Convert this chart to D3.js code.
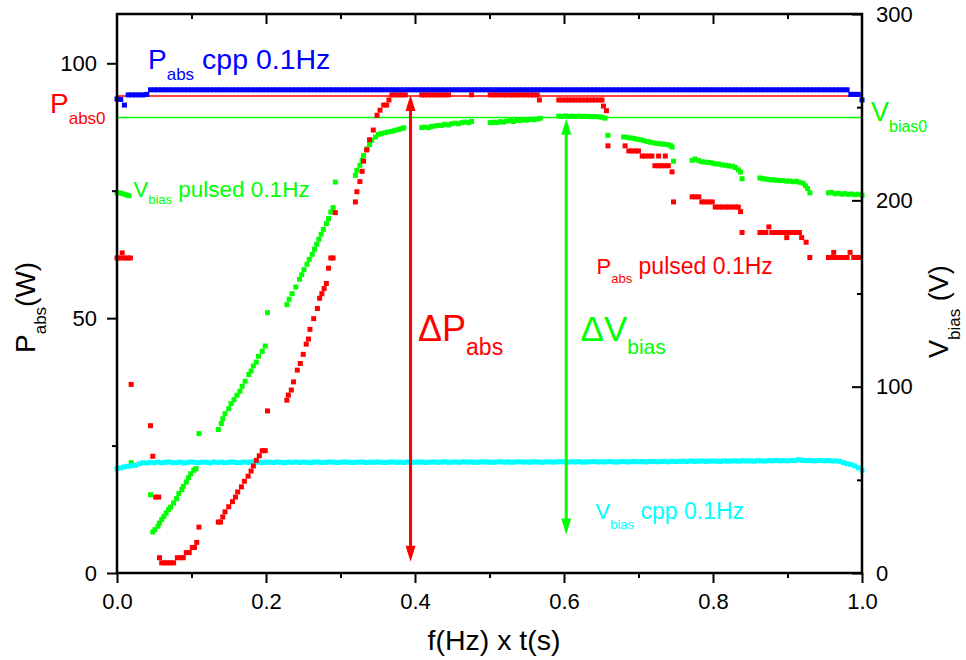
<!DOCTYPE html>
<html>
<head>
<meta charset="utf-8">
<script src="https://cdn.jsdelivr.net/npm/d3@7"></script>
<style>
  body { margin: 0; background: #fff; }
  text { font-family: "Liberation Sans", Arial, sans-serif; white-space: pre; }
</style>
</head>
<body>
<svg id="chart" width="966" height="660"></svg>
<script>
// ---------- data ----------
const xTicks = [0, 0.2, 0.4, 0.6, 0.8, 1.0];
const xMinor = [0.1, 0.3, 0.5, 0.7, 0.9];
const pTicks = [0, 50, 100];
const pMinor = [25, 75];
const vTicks = [0, 100, 200, 300];
const vMinor = [50, 150, 250];

const pAbs0 = 93.6;    // W, red reference line
const vBias0 = 244.5;  // V, green reference line

// cpp runs sampled every 0.005
const tCpp = d3.range(0, 1.0001, 0.005);

// P_abs cpp 0.1Hz (W)
const pCpp = [
  93.0, 92.9, 91.8, 93.8, 93.8, 93.8, 93.8, 93.8, 93.9, 94.8,
  94.8, 94.8, 94.8, 94.8, 94.8, 94.8, 94.8, 94.8, 94.8, 94.8,
  94.8, 94.8, 94.8, 94.8, 94.8, 94.8, 94.8, 94.8, 94.8, 94.8,
  94.8, 94.8, 94.8, 94.8, 94.8, 94.8, 94.8, 94.8, 94.8, 94.8,
  94.8, 94.8, 94.8, 94.8, 94.8, 94.8, 94.8, 94.8, 94.8, 94.8,
  94.8, 94.8, 94.8, 94.8, 94.8, 94.8, 94.8, 94.8, 94.8, 94.8,
  94.8, 94.8, 94.8, 94.8, 94.8, 94.8, 94.8, 94.8, 94.8, 94.8,
  94.8, 94.8, 94.8, 94.8, 94.8, 94.8, 94.8, 94.8, 94.8, 94.8,
  94.8, 94.8, 94.8, 94.8, 94.8, 94.8, 94.8, 94.8, 94.8, 94.8,
  94.8, 94.8, 94.8, 94.8, 94.8, 94.8, 94.8, 94.8, 94.8, 94.8,
  94.8, 94.8, 94.8, 94.8, 94.8, 94.8, 94.8, 94.8, 94.8, 94.8,
  94.8, 94.8, 94.8, 94.8, 94.8, 94.8, 94.8, 94.8, 94.8, 94.8,
  94.8, 94.8, 94.8, 94.8, 94.8, 94.8, 94.8, 94.8, 94.8, 94.8,
  94.8, 94.8, 94.8, 94.8, 94.8, 94.8, 94.8, 94.8, 94.8, 94.8,
  94.8, 94.8, 94.8, 94.8, 94.8, 94.8, 94.8, 94.8, 94.8, 94.8,
  94.8, 94.8, 94.8, 94.8, 94.8, 94.8, 94.8, 94.8, 94.8, 94.8,
  94.8, 94.8, 94.8, 94.8, 94.8, 94.8, 94.8, 94.8, 94.8, 94.8,
  94.8, 94.8, 94.8, 94.8, 94.8, 94.8, 94.8, 94.8, 94.8, 94.8,
  94.8, 94.8, 94.8, 94.8, 94.8, 94.8, 94.8, 94.8, 94.8, 94.8,
  94.8, 94.8, 94.8, 94.8, 94.8, 94.8, 94.8, 93.9, 93.9, 93.9,
  92.8
];

// V_bias cpp 0.1Hz (V)
const vCpp = [
  56.0, 56.4, 57.0, 57.3, 57.6, 57.8, 58.6, 59.2, 59.0, 59.4,
  59.2, 59.5, 59.1, 59.4, 59.6, 59.2, 59.3, 59.5, 59.0, 59.4,
  59.6, 59.3, 59.2, 59.5, 59.4, 59.1, 59.6, 59.3, 59.5, 59.2,
  59.4, 59.6, 59.3, 59.2, 59.5, 59.4, 59.6, 59.3, 59.5, 59.2,
  59.4, 59.5, 59.3, 59.6, 59.4, 59.2, 59.5, 59.4, 59.6, 59.3,
  59.5, 59.4, 59.2, 59.6, 59.5, 59.3, 59.4, 59.6, 59.5, 59.3,
  59.4, 59.6, 59.5, 59.3, 59.4, 59.5, 59.6, 59.3, 59.5, 59.4,
  59.6, 59.4, 59.3, 59.5, 59.6, 59.4, 59.5, 59.3, 59.6, 59.5,
  59.4, 59.6, 59.5, 59.3, 59.5, 59.6, 59.4, 59.5, 59.7, 59.4,
  59.5, 59.6, 59.4, 59.7, 59.5, 59.6, 59.4, 59.5, 59.7, 59.6,
  59.5, 59.4, 59.6, 59.7, 59.5, 59.6, 59.4, 59.6, 59.7, 59.5,
  59.6, 59.5, 59.7, 59.6, 59.4, 59.6, 59.7, 59.5, 59.6, 59.8,
  59.6, 59.5, 59.7, 59.6, 59.8, 59.5, 59.6, 59.7, 59.8, 59.6,
  59.7, 59.6, 59.8, 59.7, 59.5, 59.7, 59.8, 59.6, 59.7, 59.9,
  59.7, 59.8, 59.6, 59.8, 59.9, 59.7, 59.8, 59.9, 59.7, 60.0,
  59.8, 59.9, 60.0, 59.8, 60.1, 59.9, 60.0, 60.1, 59.9, 60.0,
  60.1, 60.0, 59.9, 60.2, 60.0, 60.1, 60.2, 60.0, 60.3, 60.1,
  60.2, 60.0, 60.3, 60.2, 60.1, 60.3, 60.2, 60.4, 60.2, 60.3,
  60.2, 60.4, 60.3, 60.8, 60.5, 60.3, 60.4, 60.2, 60.3, 60.4,
  60.2, 60.3, 60.1, 60.2, 59.9, 59.2, 58.7, 58.2, 57.5, 56.5,
  55.1
];

// P_abs pulsed 0.1Hz: [f*t, W]
const pPulsed = [
  [0.000, 61.8], [0.004, 61.8], [0.007, 62.8], [0.010, 61.8], [0.014, 61.8], [0.018, 61.8],
  [0.019, 37.0],
  [0.045, 28.9], [0.048, 22.9], [0.052, 14.9], [0.056, 14.9],
  [0.057, 3.0], [0.060, 2.0], [0.064, 2.0], [0.068, 2.0], [0.072, 2.0], [0.076, 2.0],
  [0.081, 3.0], [0.085, 3.0], [0.089, 3.0], [0.093, 4.0], [0.097, 4.0], [0.101, 5.0], [0.104, 5.0], [0.107, 6.0],
  [0.110, 9.0],
  [0.136, 10.0], [0.139, 10.0], [0.142, 11.0], [0.145, 12.0], [0.150, 13.0], [0.155, 14.0], [0.159, 14.9],
  [0.162, 15.9], [0.167, 16.9], [0.171, 18.0], [0.176, 19.0], [0.180, 20.0], [0.183, 21.0], [0.187, 22.1],
  [0.191, 23.0], [0.195, 24.0], [0.199, 24.0],
  [0.202, 31.8],
  [0.228, 33.9], [0.230, 34.9], [0.234, 35.9], [0.237, 37.5], [0.242, 39.8], [0.246, 41.1], [0.250, 42.9],
  [0.254, 44.9], [0.257, 45.9], [0.259, 47.8], [0.264, 49.9], [0.269, 51.9], [0.272, 53.9], [0.275, 54.8],
  [0.278, 55.8], [0.281, 56.8], [0.284, 59.8], [0.287, 61.8], [0.290, 61.8],
  [0.293, 70.7],
  [0.320, 72.8], [0.322, 74.8], [0.326, 76.8], [0.329, 78.8], [0.331, 80.8], [0.335, 83.0], [0.339, 85.0],
  [0.344, 86.9], [0.349, 89.8], [0.353, 90.8], [0.358, 91.8], [0.362, 91.8], [0.365, 92.8],
  [0.369, 93.8], [0.373, 93.8], [0.378, 93.8], [0.382, 93.8], [0.387, 93.8],
  [0.409, 93.8], [0.413, 93.8], [0.418, 93.8], [0.422, 93.8], [0.427, 93.8], [0.431, 93.8], [0.436, 93.8],
  [0.440, 93.8], [0.445, 93.8],
  [0.476, 93.8],
  [0.501, 93.8], [0.505, 93.8], [0.510, 93.8], [0.514, 93.8], [0.519, 93.8], [0.523, 93.8], [0.528, 93.8],
  [0.532, 93.8], [0.537, 93.8], [0.541, 93.8], [0.546, 93.8], [0.550, 93.8], [0.555, 93.8], [0.559, 93.8],
  [0.564, 93.8],
  [0.567, 92.8],
  [0.593, 92.8], [0.597, 92.8], [0.602, 92.8], [0.606, 92.8], [0.611, 92.8], [0.615, 92.8], [0.620, 92.8],
  [0.624, 92.8], [0.629, 92.8], [0.633, 92.8], [0.638, 92.8], [0.642, 92.8], [0.647, 92.8], [0.651, 92.8],
  [0.653, 91.6], [0.657, 90.7], [0.659, 83.8],
  [0.682, 83.8], [0.687, 82.8], [0.691, 82.8], [0.696, 82.8], [0.700, 82.8], [0.705, 81.8], [0.709, 81.8],
  [0.714, 81.8], [0.718, 81.8], [0.722, 79.9], [0.727, 79.9], [0.727, 81.8], [0.731, 79.9], [0.736, 79.9],
  [0.736, 81.8], [0.740, 79.9], [0.745, 78.7],
  [0.747, 72.8],
  [0.772, 73.8], [0.776, 73.8], [0.781, 73.8], [0.785, 72.8], [0.790, 72.8], [0.794, 72.8], [0.799, 72.8],
  [0.803, 71.8], [0.808, 71.8], [0.812, 71.8], [0.817, 71.8], [0.821, 71.8], [0.826, 71.8], [0.830, 71.8],
  [0.834, 71.8], [0.837, 70.9],
  [0.839, 66.8],
  [0.863, 66.8], [0.867, 66.8], [0.871, 66.8], [0.875, 67.9], [0.879, 66.8], [0.884, 66.8], [0.888, 66.8],
  [0.892, 66.8], [0.897, 66.8], [0.899, 65.8], [0.903, 66.8], [0.908, 66.8], [0.912, 66.8], [0.916, 66.8],
  [0.919, 65.8], [0.925, 64.9],
  [0.930, 61.9],
  [0.955, 61.9], [0.960, 61.9], [0.962, 62.9], [0.965, 61.9], [0.970, 61.9], [0.975, 61.9], [0.980, 61.9],
  [0.984, 62.9], [0.989, 61.9], [0.993, 61.9], [0.998, 61.9]
];

// V_bias pulsed 0.1Hz: [f*t, V]
const vPulsed = [
  [0.000, 204.0], [0.004, 204.0], [0.008, 203.5], [0.012, 203.0], [0.016, 202.5],
  [0.019, 59.2], [0.045, 42.0],
  [0.048, 22.0], [0.051, 23.3], [0.055, 25.1], [0.057, 26.8], [0.060, 28.7], [0.063, 30.4], [0.066, 32.2],
  [0.069, 34.0], [0.072, 35.4], [0.076, 37.6], [0.080, 39.9], [0.083, 42.6], [0.087, 44.8], [0.089, 46.5],
  [0.093, 48.8], [0.096, 51.2], [0.099, 53.3], [0.103, 55.1], [0.106, 56.0],
  [0.110, 74.8],
  [0.136, 77.0], [0.140, 80.2], [0.142, 82.8], [0.145, 85.5], [0.150, 88.2], [0.153, 90.9], [0.157, 93.0],
  [0.161, 95.4], [0.165, 97.5], [0.168, 100.2], [0.172, 102.9], [0.177, 106.5], [0.180, 108.4], [0.183, 111.1],
  [0.187, 113.2], [0.190, 116.3], [0.195, 119.0], [0.199, 121.8],
  [0.202, 139.7],
  [0.228, 144.0], [0.231, 146.9], [0.235, 149.9], [0.240, 153.5], [0.245, 157.6], [0.248, 160.1], [0.251, 162.8],
  [0.255, 165.7], [0.258, 168.3], [0.262, 171.0], [0.265, 173.7], [0.268, 176.4], [0.271, 179.1], [0.274, 181.8],
  [0.277, 184.4], [0.281, 187.5], [0.284, 190.2], [0.287, 193.7], [0.290, 196.1],
  [0.293, 209.8],
  [0.320, 213.4], [0.322, 216.1], [0.326, 218.8], [0.329, 221.5], [0.331, 224.1], [0.336, 227.7], [0.339, 230.0],
  [0.342, 232.2], [0.347, 234.0], [0.351, 235.4], [0.355, 235.8], [0.360, 236.3], [0.364, 236.7], [0.369, 237.0],
  [0.373, 237.6], [0.378, 238.0], [0.382, 238.5], [0.385, 238.9],
  [0.409, 239.0], [0.413, 239.3], [0.418, 239.0], [0.422, 239.6], [0.427, 239.9], [0.431, 240.2], [0.436, 240.2],
  [0.440, 240.8], [0.445, 240.5], [0.449, 241.1], [0.454, 241.4], [0.458, 241.1], [0.463, 241.7], [0.467, 242.0],
  [0.472, 241.7], [0.476, 242.3],
  [0.501, 241.7], [0.505, 241.9], [0.510, 241.7], [0.514, 242.2], [0.519, 242.0], [0.523, 242.5], [0.528, 242.8],
  [0.532, 242.3], [0.537, 243.0], [0.541, 242.8], [0.546, 243.2], [0.550, 243.0], [0.555, 243.5], [0.559, 243.3],
  [0.564, 243.6], [0.568, 244.0],
  [0.593, 245.2], [0.597, 245.0], [0.602, 245.3], [0.606, 245.0], [0.611, 245.2], [0.615, 245.0], [0.620, 245.2],
  [0.624, 245.0], [0.629, 245.1], [0.633, 245.0], [0.638, 244.9], [0.642, 245.0], [0.647, 244.8], [0.651, 244.6],
  [0.655, 244.1],
  [0.659, 234.9],
  [0.680, 234.0], [0.685, 233.8], [0.689, 233.5], [0.694, 233.2], [0.698, 232.8], [0.703, 232.5], [0.707, 232.0],
  [0.712, 231.6], [0.716, 231.2], [0.721, 230.8], [0.725, 230.5], [0.730, 230.3], [0.734, 230.1], [0.739, 229.9],
  [0.743, 229.4], [0.745, 228.6],
  [0.747, 221.0],
  [0.772, 221.5], [0.776, 222.2], [0.781, 221.3], [0.785, 220.7], [0.790, 220.5], [0.794, 220.3], [0.799, 220.0],
  [0.803, 219.6], [0.808, 219.5], [0.812, 219.0], [0.817, 218.8], [0.821, 218.5], [0.826, 218.3], [0.830, 217.6],
  [0.834, 216.4], [0.837, 215.2],
  [0.839, 211.6],
  [0.863, 212.0], [0.867, 211.6], [0.872, 211.4], [0.876, 211.0], [0.881, 211.0], [0.885, 210.8], [0.890, 210.6],
  [0.894, 210.6], [0.899, 210.3], [0.903, 210.3], [0.908, 210.0], [0.912, 210.2], [0.916, 209.7], [0.921, 209.2],
  [0.924, 207.8], [0.927, 206.3], [0.930, 204.0],
  [0.955, 204.0], [0.959, 204.3], [0.964, 203.5], [0.968, 203.8], [0.973, 203.3], [0.977, 203.6], [0.982, 203.2],
  [0.986, 203.4], [0.991, 203.0], [0.995, 203.3], [1.000, 202.7]
];

// double arrows: [f*t, from, to]
const dP = [0.394, 93.8, 2.2];     // on the W axis
const dV = [0.603, 243.8, 20.6];   // on the V axis

// ---------- colours ----------
const RED = "#ff0000", GREEN = "#00ff00", BLUE = "#0000ff", CYAN = "#00ffff";

// ---------- scales ----------
const svg = d3.select("#chart");
const x = d3.scaleLinear().domain([0, 1]).range([117, 862]);
const yP = d3.scaleLinear().domain([0, 109.67]).range([573, 14]);
const yV = d3.scaleLinear().domain([0, 300]).range([573, 14]);

// ---------- reference lines ----------
svg.append("line")
  .attr("x1", x(0)).attr("x2", x(1)).attr("y1", yP(pAbs0)).attr("y2", yP(pAbs0))
  .attr("stroke", RED).attr("stroke-width", 1.5);
svg.append("line")
  .attr("x1", x(0)).attr("x2", x(1)).attr("y1", yV(vBias0)).attr("y2", yV(vBias0))
  .attr("stroke", GREEN).attr("stroke-width", 1.5);

// ---------- scatter series ----------
const S = 5;
function dots(data, fx, fy, color) {
  svg.append("g").selectAll("rect").data(data).join("rect")
    .attr("x", d => fx(d) - S / 2).attr("y", d => fy(d) - S / 2)
    .attr("width", S).attr("height", S).attr("fill", color);
}
dots(vPulsed, d => x(d[0]), d => yV(d[1]), GREEN);
dots(vCpp.map((v, i) => [tCpp[i], v]), d => x(d[0]), d => yV(d[1]), CYAN);
dots(pPulsed, d => x(d[0]), d => yP(d[1]), RED);
dots(pCpp.map((v, i) => [tCpp[i], v]), d => x(d[0]), d => yP(d[1]), BLUE);

// ---------- double arrows ----------
function dblArrow(xv, y1, y2, color) {
  const hl = 16, hw = 5;
  svg.append("line").attr("x1", xv).attr("x2", xv)
    .attr("y1", y1 + hl - 2).attr("y2", y2 - hl + 2)
    .attr("stroke", color).attr("stroke-width", 3);
  svg.append("path")
    .attr("d", `M${xv},${y1}L${xv - hw},${y1 + hl}L${xv + hw},${y1 + hl}Z`).attr("fill", color);
  svg.append("path")
    .attr("d", `M${xv},${y2}L${xv - hw},${y2 - hl}L${xv + hw},${y2 - hl}Z`).attr("fill", color);
}
dblArrow(x(dP[0]), yP(dP[1]), yP(dP[2]), RED);
dblArrow(x(dV[0]), yV(dV[1]), yV(dV[2]), GREEN);

// ---------- frame + axes ----------
svg.append("rect")
  .attr("x", x(0)).attr("y", yV(300)).attr("width", x(1) - x(0)).attr("height", yV(0) - yV(300))
  .attr("fill", "none").attr("stroke", "#000").attr("stroke-width", 2.5);

function ticks(gen, tr, vals, size, fmt, pad) {
  const g = svg.append("g").attr("transform", tr)
    .call(gen.tickValues(vals).tickSize(size).tickSizeOuter(0).tickPadding(pad).tickFormat(fmt));
  g.select(".domain").remove();
  g.attr("font-size", 22).attr("font-family", null);
  g.selectAll("line").attr("stroke-width", 2);
  g.selectAll("text").attr("fill", "#000");
}
const none = () => "";
ticks(d3.axisBottom(x), `translate(0,${yV(0)})`, xTicks, 10, d3.format(".1f"), 10);
ticks(d3.axisBottom(x), `translate(0,${yV(0)})`, xMinor, 5, none, 10);
ticks(d3.axisTop(x), `translate(0,${yV(300)})`, xTicks.slice(1, -1), -10, none, 10);
ticks(d3.axisTop(x), `translate(0,${yV(300)})`, xMinor, -5, none, 10);
ticks(d3.axisLeft(yP), `translate(${x(0)},0)`, pTicks, 10, d => d, 10);
ticks(d3.axisLeft(yP), `translate(${x(0)},0)`, pMinor, 5, none, 10);
ticks(d3.axisRight(yV), `translate(${x(1)},0)`, vTicks, -10, d => d, 14);
ticks(d3.axisRight(yV), `translate(${x(1)},0)`, vMinor, -5, none, 14);

// ---------- text ----------
function label(px, py, color, parts, rot, anchor) {
  const t = svg.append("text").attr("fill", color)
    .attr("text-anchor", anchor || "start")
    .attr("transform", `translate(${px},${py})` + (rot ? " rotate(-90)" : ""));
  parts.forEach(([s, size, dy]) => t.append("tspan").attr("font-size", size).attr("dy", dy).text(s));
}

label(494, 650, "#000", [["f(Hz) x t(s)", 28.5, 0]], false, "middle");
label(35, 353, "#000", [["P", 28, 0], ["abs", 17, 11], ["(W)", 28, -11]], true);
label(948, 358, "#000", [["V", 27, 0], ["bias", 17, 12], [" (V)", 27, -12]], true);

label(148, 69, BLUE, [["P", 28, 0], ["abs", 17, 11], [" cpp 0.1Hz", 28.5, -11]]);
label(50, 113, RED, [["P", 28, 0], ["abs0", 17, 11]]);
label(133.5, 197, GREEN, [["V", 22, 0], ["bias", 13, 7], [" pulsed 0.1Hz", 22.5, -7]]);
label(871, 121, GREEN, [["V", 27, 0], ["bias0", 16, 11]]);
label(596.5, 274, RED, [["P", 22, 0], ["abs", 13, 9], [" pulsed 0.1Hz", 23, -9]]);
label(418, 341, RED, [["\u0394P", 36, 0], ["abs", 23, 14]]);
label(580.5, 341, GREEN, [["\u0394V", 35, 0], ["bias", 21, 13]]);
label(595.5, 519, CYAN, [["V", 22, 0], ["bias", 13, 10], [" cpp 0.1Hz", 23, -10]]);
</script>
</body>
</html>
